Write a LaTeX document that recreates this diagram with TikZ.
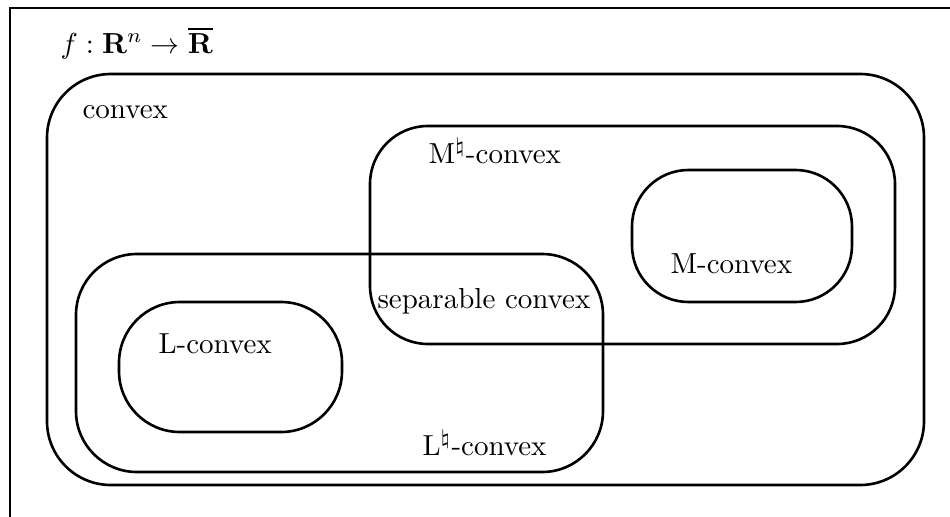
\documentclass[tikz,border=0pt]{standalone}
\usepackage{amsmath,amssymb}
\usepackage{tikz}

\begin{document}
\begin{tikzpicture}[x=0.345pt,y=-0.345pt,
  set/.style={line width=0.9pt},
  lab/.style={anchor=base west,inner sep=0pt}]
\useasboundingbox (0,0) rectangle (950,517);
\clip (0,0) rectangle (950,517);
\draw [line width=0.9pt] (10,8) rectangle (990,540);

% the classes
\draw [set, rounded corners=22pt] (47,74) rectangle (924,485);
\draw [set, rounded corners=20pt] (370,126) rectangle (895,344);
\draw [set, rounded corners=19.5pt] (632,170) rectangle (852,302);
\draw [set, rounded corners=21pt] (76,254) rectangle (603,472);
\draw [set, rounded corners=21pt] (119,302) rectangle (342,432);

\node [lab] (dom) at (60,53) {$f:\mathbf{R}^n\rightarrow\overline{\mathbf{R}}$};
\node [lab] (conv) at (82,118) {convex};
\node [lab] (mnat) at (428,163) {M$^\natural$-convex};
\node [lab] (mconv) at (670,273) {M-convex};
\node [lab] (sep) at (377,308) {separable convex};
\node [lab] (lconv) at (158,353) {L-convex};
\node [lab] (lnat) at (422,455) {L$^\natural$-convex};
\end{tikzpicture}
\end{document}
